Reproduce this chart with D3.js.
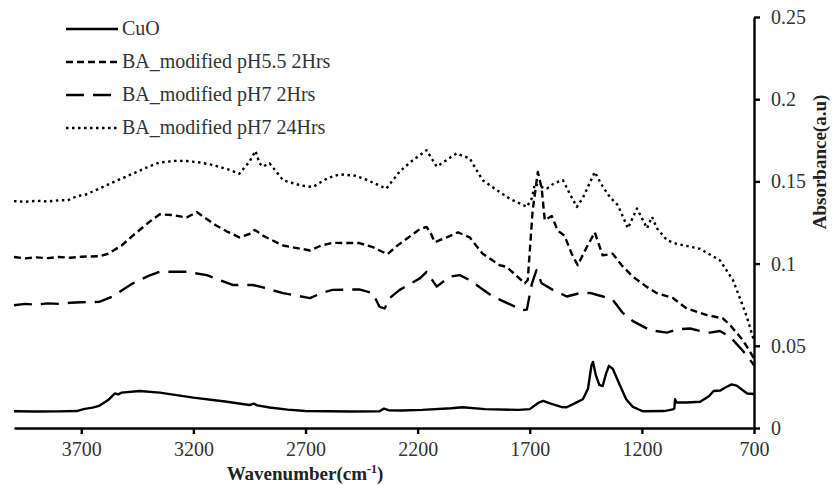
<!DOCTYPE html>
<html>
<head>
<meta charset="utf-8">
<script src="https://cdn.jsdelivr.net/npm/d3@7"></script>
<style>
    body { margin: 0; background: #fff; }
    text { font-family: "Liberation Serif", "Times New Roman", serif; }
</style>
</head>
<body>
<script>
(function(){

    //spectra: [wavenumber (cm-1), absorbance]
    var cuoData = [[4000,0.0102],[3900,0.0100],[3800,0.0101],[3720,0.0103],[3690,0.0115],[3650,0.0124],[3620,0.0135],
        [3580,0.0170],[3550,0.0210],[3535,0.0205],[3520,0.0215],[3440,0.0225],[3350,0.0215],[3200,0.0185],[3050,0.0160],
        [2950,0.0140],[2930,0.0148],[2915,0.0138],[2860,0.0125],[2780,0.0112],[2700,0.0103],[2500,0.0100],[2370,0.0102],
        [2350,0.0118],[2330,0.0108],[2270,0.0106],[2180,0.0110],[2050,0.0120],[2000,0.0126],[1900,0.0115],[1750,0.0110],
        [1700,0.0115],[1660,0.0155],[1640,0.0165],[1610,0.0150],[1560,0.0128],[1535,0.0126],[1500,0.0150],[1463,0.0175],
        [1440,0.0240],[1425,0.0380],[1418,0.0402],[1405,0.0320],[1390,0.0262],[1375,0.0255],[1360,0.0330],[1347,0.0378],
        [1330,0.0360],[1298,0.0260],[1270,0.0175],[1240,0.0128],[1196,0.0102],[1100,0.0103],[1062,0.0113],[1055,0.0120],
        [1052,0.0175],[1045,0.0155],[1000,0.0155],[940,0.0160],[900,0.0195],[880,0.0225],[850,0.0228],[830,0.0245],
        [800,0.0265],[777,0.0258],[750,0.0230],[730,0.0210],[700,0.0207]];

    var ph55Data = [[4000,0.1040],[3950,0.1032],[3900,0.1038],[3850,0.1033],[3800,0.1040],[3750,0.1036],[3700,0.1042],
        [3620,0.1045],[3580,0.1060],[3520,0.1110],[3470,0.1170],[3400,0.1250],[3350,0.1300],[3290,0.1295],[3230,0.1280],
        [3185,0.1314],[3150,0.1280],[3100,0.1233],[3050,0.1195],[2995,0.1160],[2950,0.1180],[2927,0.1205],[2910,0.1190],
        [2890,0.1170],[2800,0.1110],[2680,0.1080],[2630,0.1110],[2580,0.1126],[2460,0.1125],[2400,0.1100],[2335,0.1057],
        [2290,0.1110],[2230,0.1170],[2190,0.1210],[2160,0.1223],[2140,0.1180],[2124,0.1130],[2070,0.1160],[2020,0.1190],
        [1968,0.1160],[1910,0.1060],[1834,0.0990],[1803,0.0980],[1722,0.0880],[1709,0.0900],[1687,0.1324],[1664,0.1557],
        [1647,0.1460],[1633,0.1264],[1602,0.1290],[1575,0.1200],[1545,0.1170],[1513,0.1060],[1486,0.0990],[1446,0.1100],
        [1410,0.1190],[1375,0.1050],[1330,0.1060],[1290,0.0990],[1240,0.0920],[1180,0.0860],[1133,0.0820],[1060,0.0790],
        [1052,0.0780],[1000,0.0727],[910,0.0687],[838,0.0666],[807,0.0626],[750,0.0535],[704,0.0433],[700,0.0420]];

    var ph7Data = [[4000,0.0747],[3950,0.0755],[3900,0.0750],[3850,0.0758],[3800,0.0755],[3750,0.0762],[3700,0.0765],
        [3620,0.0767],[3560,0.0800],[3470,0.0880],[3400,0.0925],[3350,0.0950],[3230,0.0950],[3140,0.0930],[3025,0.0870],
        [2935,0.0870],[2890,0.0855],[2800,0.0820],[2680,0.0790],[2630,0.0820],[2580,0.0840],[2460,0.0843],[2400,0.0820],
        [2370,0.0737],[2347,0.0727],[2325,0.0790],[2280,0.0840],[2190,0.0910],[2160,0.0950],[2115,0.0860],[2057,0.0920],
        [2012,0.0930],[1968,0.0900],[1865,0.0800],[1731,0.0717],[1713,0.0720],[1690,0.0880],[1670,0.0960],[1647,0.0880],
        [1597,0.0840],[1535,0.0800],[1477,0.0820],[1432,0.0822],[1374,0.0800],[1330,0.0780],[1285,0.0700],[1240,0.0650],
        [1164,0.0595],[1088,0.0580],[1044,0.0600],[985,0.0605],[940,0.0590],[896,0.0580],[852,0.0590],[807,0.0555],
        [750,0.0470],[704,0.0390],[700,0.0380]];

    var ph7DayData = [[4000,0.1380],[3950,0.1376],[3900,0.1382],[3850,0.1378],[3800,0.1385],[3760,0.1385],[3720,0.1410],
        [3680,0.1420],[3620,0.1456],[3550,0.1500],[3470,0.1547],[3400,0.1590],[3350,0.1615],[3280,0.1625],[3230,0.1624],
        [3170,0.1615],[3115,0.1600],[3050,0.1575],[2995,0.1547],[2950,0.1620],[2923,0.1685],[2905,0.1610],[2890,0.1590],
        [2860,0.1610],[2800,0.1507],[2720,0.1475],[2668,0.1466],[2600,0.1520],[2548,0.1543],[2480,0.1535],[2428,0.1510],
        [2340,0.1456],[2280,0.1560],[2230,0.1620],[2160,0.1690],[2115,0.1590],[2060,0.1640],[2027,0.1670],[1968,0.1640],
        [1910,0.1507],[1850,0.1450],[1790,0.1395],[1713,0.1345],[1690,0.1400],[1677,0.1487],[1660,0.1470],[1624,0.1456],
        [1590,0.1490],[1552,0.1507],[1520,0.1420],[1490,0.1345],[1463,0.1400],[1410,0.1557],[1380,0.1480],[1343,0.1405],
        [1307,0.1355],[1262,0.1215],[1222,0.1335],[1177,0.1215],[1155,0.1284],[1133,0.1215],[1088,0.1142],[1045,0.1120],
        [940,0.1090],[852,0.1020],[794,0.0900],[760,0.0780],[732,0.0676],[700,0.0530]];

    var seriesNames = ["CuO", "BA_modified pH5.5 2Hrs", "BA_modified pH7 2Hrs", "BA_modified pH7 24Hrs"];
    var seriesData = [cuoData, ph55Data, ph7Data, ph7DayData];
    var dashStyles = ["none", "7,4", "18,9", "2.5,3.5"];

    var xTicks = [3700, 3200, 2700, 2200, 1700, 1200, 700];
    var yTicks = [0, 0.05, 0.1, 0.15, 0.2, 0.25];

    //chart frame
    var width = 835,
        height = 485,
        left = 14,
        right = 754,
        top = 17,
        bottom = 428;

    var svg = d3.select("body")
        .append("svg")
        .attr("width", width)
        .attr("height", height);

    //wavenumber runs high to low, as in the spectrum
    var x = d3.scaleLinear()
        .domain([4000, 700])
        .range([left, right]);

    var y = d3.scaleLinear()
        .domain([0, 0.25])
        .range([bottom, top]);

    var line = d3.line()
        .x(function(d){ return x(d[0]); })
        .y(function(d){ return y(d[1]); });

    //spectra
    svg.selectAll(".spectrum")
        .data(seriesData)
        .enter()
        .append("path")
        .attr("class", "spectrum")
        .attr("d", line)
        .attr("fill", "none")
        .attr("stroke", "#000")
        .attr("stroke-width", 2.4)
        .attr("stroke-linejoin", "round")
        .attr("stroke-dasharray", function(d, i){ return dashStyles[i]; });

    //x axis along the bottom
    var xAxis = svg.append("g")
        .attr("transform", "translate(0," + bottom + ")")
        .call(d3.axisBottom(x).tickValues(xTicks).tickFormat(d3.format("d")).tickSizeInner(6).tickSizeOuter(0).tickPadding(8));

    //y axis on the right, at 700 cm-1
    var yAxis = svg.append("g")
        .attr("transform", "translate(" + right + ",0)")
        .call(d3.axisRight(y).tickValues(yTicks).tickFormat(function(d){ return d3.format("~g")(d); }).tickSizeInner(6).tickSizeOuter(0).tickPadding(11));

    svg.selectAll(".domain, .tick line")
        .attr("stroke", "#000")
        .attr("stroke-width", 2.4);

    svg.selectAll(".tick text")
        .attr("font-family", "Liberation Serif, serif")
        .attr("font-size", 20)
        .attr("fill", "#333");

    //axis titles
    var xTitle = svg.append("text")
        .attr("x", 305)
        .attr("y", 480)
        .attr("text-anchor", "middle")
        .attr("font-size", 19)
        .attr("font-weight", "bold")
        .attr("fill", "#222");
    xTitle.append("tspan").text("Wavenumber(cm");
    xTitle.append("tspan").attr("font-size", 12).attr("dy", -7).text("-1");
    xTitle.append("tspan").attr("dy", 7).text(")");

    svg.append("text")
        .attr("transform", "translate(826,162) rotate(-90)")
        .attr("text-anchor", "middle")
        .attr("font-size", 19)
        .attr("font-weight", "bold")
        .attr("fill", "#222")
        .text("Absorbance(a.u)");

    //legend
    var legend = svg.selectAll(".legend")
        .data(seriesNames)
        .enter()
        .append("g")
        .attr("class", "legend")
        .attr("transform", function(d, i){ return "translate(66," + (29 + i * 33) + ")"; });

    legend.append("line")
        .attr("x1", 0)
        .attr("x2", 52)
        .attr("stroke", "#000")
        .attr("stroke-width", 2.4)
        .attr("stroke-dasharray", function(d, i){ return dashStyles[i]; });

    legend.append("text")
        .attr("x", 56)
        .attr("y", 6)
        .attr("font-size", 20)
        .attr("fill", "#333")
        .text(function(d){ return d; });

})();
</script>
</body>
</html>
